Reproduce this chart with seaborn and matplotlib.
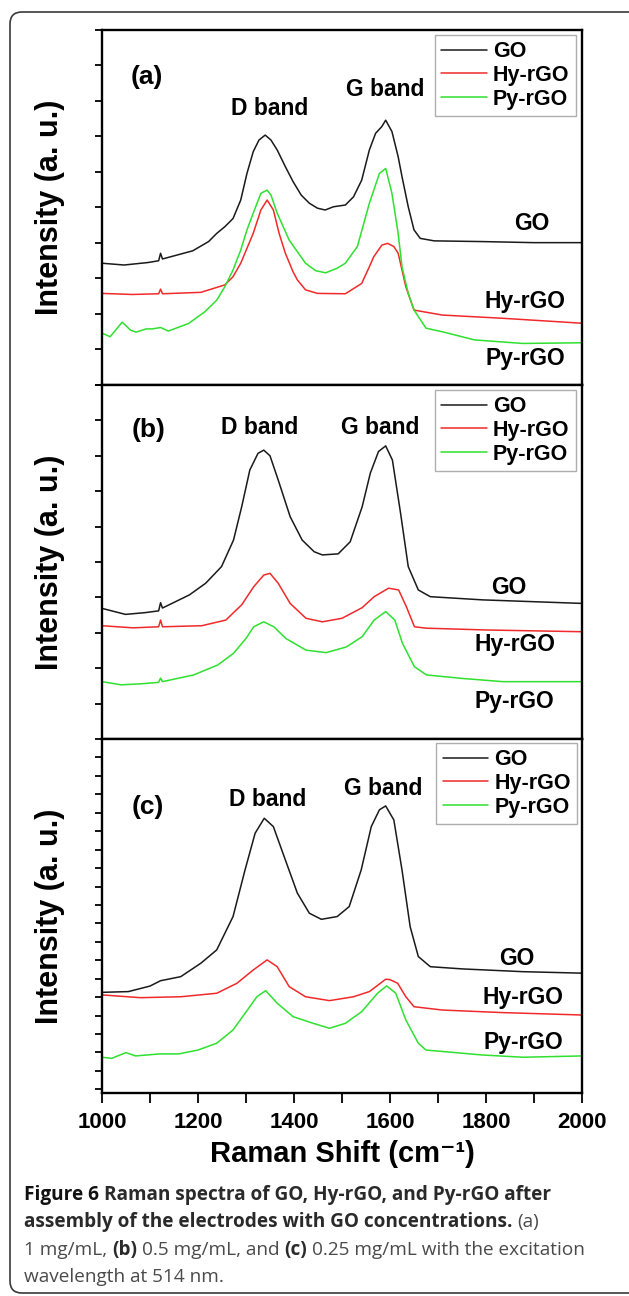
import matplotlib
matplotlib.use('Agg')
import matplotlib.pyplot as plt
import seaborn as sns
from matplotlib.patches import FancyBboxPatch

# ---------------- data (Raman shift in cm-1, intensity in a.u. with stacking offsets) ----------------
series_names = ["GO", "Hy-rGO", "Py-rGO"]
x_ticks = [1000, 1200, 1400, 1600, 1800, 2000]

# panel (a) 1 mg/mL
a_go_x = [1000,1046,1096,1118,1122,1126,1189,1222,1239,1256,1273,1289,1302,1315,1327,1340,1352,1365,1382,1398,1415,1432,1449,1465,1482,1507,1524,1541,1557,1570,1583,1591,1604,1617,1625,1638,1650,1663,1692,1793,1900,2000]
a_go_y = [3.43,3.38,3.45,3.50,3.71,3.55,3.78,4.04,4.27,4.46,4.69,5.21,5.96,6.57,6.90,7.04,6.90,6.62,6.15,5.73,5.35,5.12,4.98,4.93,5.02,5.07,5.30,5.77,6.62,7.09,7.28,7.46,7.14,6.43,5.87,5.02,4.37,4.13,4.06,4.04,4.01,4.01]
a_hy_x = [1000,1063,1118,1122,1126,1206,1256,1273,1289,1302,1315,1331,1344,1357,1369,1382,1398,1407,1424,1449,1507,1541,1557,1566,1583,1595,1608,1617,1633,1650,1709,1834,2000]
a_hy_y = [2.58,2.55,2.57,2.70,2.57,2.61,2.82,3.05,3.43,3.85,4.27,4.93,5.21,4.93,4.27,3.71,3.19,2.96,2.68,2.58,2.57,2.86,3.33,3.61,3.94,3.99,3.90,3.71,2.77,2.11,1.97,1.88,1.74]
a_py_x = [1000,1017,1042,1060,1071,1092,1105,1122,1138,1180,1214,1239,1256,1273,1289,1302,1315,1331,1344,1352,1365,1390,1424,1445,1466,1490,1507,1532,1557,1578,1591,1604,1617,1625,1638,1650,1675,1709,1776,1877,2000]
a_py_y = [1.46,1.36,1.77,1.54,1.49,1.58,1.58,1.62,1.52,1.73,2.06,2.39,2.77,3.24,3.80,4.37,4.84,5.40,5.49,5.35,4.84,4.08,3.43,3.22,3.16,3.29,3.43,3.90,5.12,5.96,6.10,5.40,4.27,3.33,2.58,2.11,1.60,1.50,1.27,1.17,1.19]

# panel (b) 0.5 mg/mL
b_go_x = [1000,1049,1090,1118,1122,1126,1182,1216,1249,1274,1291,1308,1325,1337,1350,1367,1392,1417,1442,1459,1492,1517,1542,1559,1576,1591,1605,1622,1638,1659,1684,1793,2000]
b_go_y = [3.69,3.52,3.57,3.62,3.85,3.70,4.07,4.40,4.87,5.62,6.56,7.60,8.07,8.16,8.00,7.32,6.28,5.62,5.29,5.20,5.23,5.57,6.56,7.51,8.12,8.28,7.88,6.38,4.87,4.21,4.02,3.93,3.83]
b_hy_x = [1000,1065,1118,1122,1126,1208,1258,1291,1316,1337,1350,1367,1392,1425,1459,1500,1542,1567,1597,1618,1634,1651,1676,1800,2000]
b_hy_y = [3.20,3.14,3.17,3.36,3.17,3.20,3.36,3.79,4.30,4.63,4.68,4.40,3.83,3.41,3.31,3.41,3.71,4.02,4.26,4.21,3.74,3.17,3.13,3.08,3.03]
b_py_x = [1000,1040,1082,1118,1122,1126,1191,1241,1274,1300,1316,1337,1358,1383,1425,1467,1509,1542,1567,1591,1610,1626,1651,1676,1751,1835,2000]
b_py_y = [1.62,1.53,1.56,1.60,1.72,1.62,1.81,2.09,2.42,2.84,3.17,3.31,3.17,2.84,2.51,2.44,2.60,2.89,3.36,3.60,3.36,2.70,2.04,1.81,1.71,1.62,1.62]

# panel (c) 0.25 mg/mL
c_go_x = [1000,1055,1100,1122,1164,1206,1239,1273,1298,1319,1338,1357,1382,1407,1432,1457,1490,1515,1540,1561,1578,1591,1608,1625,1642,1659,1684,1751,1877,2000]
c_go_y = [5.26,5.30,5.60,5.89,6.11,6.84,7.56,9.37,11.90,13.89,14.70,14.25,12.44,10.64,9.55,9.22,9.37,9.91,11.90,14.25,15.16,15.37,14.61,11.90,8.82,7.20,6.65,6.53,6.38,6.30]
c_hy_x = [1000,1080,1164,1239,1281,1315,1344,1365,1390,1424,1474,1524,1557,1591,1600,1616,1633,1650,1709,1835,2000]
c_hy_y = [5.12,4.97,5.02,5.21,5.75,6.47,7.02,6.65,5.57,5.02,4.81,5.02,5.30,5.97,5.95,5.75,5.02,4.48,4.30,4.16,4.03]
c_py_x = [1000,1020,1050,1070,1120,1160,1200,1239,1273,1298,1323,1341,1365,1398,1440,1474,1507,1541,1574,1593,1612,1633,1659,1675,1793,1877,2000]
c_py_y = [1.74,1.68,1.99,1.81,1.92,1.92,2.13,2.50,3.22,4.12,5.03,5.35,4.67,3.94,3.58,3.31,3.58,4.21,5.21,5.61,5.21,3.76,2.50,2.13,1.86,1.74,1.81]

panel_letters = ["(a)", "(b)", "(c)"]
peak_labels = ["D band", "G band"]

# ---------------- style ----------------
sns.set_theme(style="ticks")
plt.rcParams['font.family'] = ['Liberation Sans', 'DejaVu Sans']
plt.rcParams['font.weight'] = 'bold'

W, H = 629, 1296
fig = plt.figure(figsize=(W / 100, H / 100), dpi=100)
fig.patch.set_facecolor('white')

colors = ['#1a1a1a', '#f02a2a', '#2fe02f']
L, R = 102, 582
panel_px = [(30, 385), (385, 739), (739, 1093)]

data = [
    [(a_go_x, a_go_y), (a_hy_x, a_hy_y), (a_py_x, a_py_y)],
    [(b_go_x, b_go_y), (b_hy_x, b_hy_y), (b_py_x, b_py_y)],
    [(c_go_x, c_go_y), (c_hy_x, c_hy_y), (c_py_x, c_py_y)],
]
ylims = [(0, 10), (0, 10), (-0.2, 19.0)]
yticks = [list(range(0, 11)), list(range(0, 11)), list(range(0, 19))]

# layout of annotations (axes fractions)
letter_pos = [(0.094, 0.868), (0.098, 0.873), (0.095, 0.808)]
dband_pos = [(0.350, 0.780), (0.329, 0.879), (0.346, 0.828)]
gband_pos = [(0.590, 0.831), (0.579, 0.879), (0.585, 0.859)]
side_pos = [
    [(0.896, 0.456), (0.881, 0.234), (0.881, 0.076)],
    [(0.848, 0.427), (0.860, 0.266), (0.860, 0.105)],
    [(0.865, 0.381), (0.877, 0.271), (0.877, 0.144)],
]
legend_anchor = [(0.9875, 0.986), (0.9875, 0.986), (0.990, 0.989)]

for i, (top, bot) in enumerate(panel_px):
    ax = fig.add_axes([L / W, 1 - bot / H, (R - L) / W, (bot - top) / H])
    for (xs, ys), name, c in zip(data[i], series_names, colors):
        sns.lineplot(x=xs, y=ys, ax=ax, color=c, linewidth=1.1, label=name,
                     estimator=None, sort=False)
    ax.set_xlim(1000, 2000)
    ax.set_ylim(*ylims[i])
    ax.set_yticks(yticks[i])
    ax.set_yticklabels([])
    ax.tick_params(axis='y', direction='out', length=5, width=1.3, left=True, color='black')
    for sp in ax.spines.values():
        sp.set_linewidth(1.7)
        sp.set_color('black')
        sp.set_visible(True)
    if i < 2:
        ax.set_xticks([])
    else:
        ax.set_xticks(x_ticks)
        ax.set_xticks(list(range(1100, 2000, 200)), minor=True)
        ax.tick_params(axis='x', which='both', direction='out', length=7, width=1.3,
                       labelsize=16, pad=7, color='black', labelcolor='black')
        for lab in ax.get_xticklabels():
            lab.set_fontweight('bold')
        ax.set_xlabel('Raman Shift (cm\u207b\u00b9)', fontsize=21, fontweight='bold', labelpad=5, color='black')
    ax.set_ylabel('Intensity (a. u.)', fontsize=22, fontweight='bold', color='black')
    ax.yaxis.set_label_coords(-0.078, 0.5)

    leg = ax.legend(loc='upper right', bbox_to_anchor=legend_anchor[i], borderaxespad=0,
                    frameon=True, fancybox=False, edgecolor='#9a9a9a',
                    prop={'weight': 'bold', 'size': 15.5}, handlelength=2.1,
                    handletextpad=0.3, labelspacing=0.12, borderpad=0.3)
    leg.get_frame().set_linewidth(1.0)
    for t in leg.get_texts():
        t.set_color('black')

    ax.text(*letter_pos[i], panel_letters[i], transform=ax.transAxes, ha='center', va='center',
            fontsize=19, fontweight='bold', color='black')
    ax.text(*dband_pos[i], peak_labels[0], transform=ax.transAxes, ha='center', va='center',
            fontsize=16.5, fontweight='bold', color='black')
    ax.text(*gband_pos[i], peak_labels[1], transform=ax.transAxes, ha='center', va='center',
            fontsize=16.5, fontweight='bold', color='black')
    for (px, py), name in zip(side_pos[i], series_names):
        ax.text(px, py, name, transform=ax.transAxes, ha='center', va='center',
                fontsize=16.5, fontweight='bold', color='black')

# ---------------- border ----------------
border = FancyBboxPatch((0.10, 0.03), 7.0, 12.81, boxstyle='round,pad=0,rounding_size=0.12',
                        transform=fig.dpi_scale_trans, fill=False, edgecolor='#3a3a3a', linewidth=1.2)
fig.add_artist(border)

# ---------------- caption ----------------
cap_fs = 13.7
renderer = fig.canvas.get_renderer()
space_cache = {}


def space_width(weight):
    if weight not in space_cache:
        t1 = fig.text(0, 0, 'x x', fontsize=cap_fs, fontweight=weight, family='Open Sans')
        t2 = fig.text(0, 0, 'xx', fontsize=cap_fs, fontweight=weight, family='Open Sans')
        w = t1.get_window_extent(renderer).width - t2.get_window_extent(renderer).width
        t1.remove(); t2.remove()
        space_cache[weight] = w
    return space_cache[weight]


def caption_line(y_px, segments):
    x = 24.0
    for s, weight, color in segments:
        lead = len(s) - len(s.lstrip(' '))
        trail = len(s) - len(s.rstrip(' '))
        x += lead * space_width(weight)
        core = s.strip(' ')
        t = fig.text(x / W, 1 - y_px / H, core, fontsize=cap_fs, fontweight=weight,
                     color=color, family='Open Sans', ha='left', va='center')
        x += t.get_window_extent(renderer).width
        x += trail * space_width(weight)


dark = '#111111'
body = '#2a2a2a'
grey = '#4a4a4a'
caption_line(1195, [("Figure 6", 'bold', dark), (" Raman spectra of GO, Hy-rGO, and Py-rGO after", 'bold', body)])
caption_line(1222, [("assembly of the electrodes with GO concentrations.", 'bold', body), (" (a)", 'normal', grey)])
caption_line(1250, [("1 mg/mL, ", 'normal', grey), ("(b)", 'bold', body), (" 0.5 mg/mL, and ", 'normal', grey),
                    ("(c)", 'bold', body), (" 0.25 mg/mL with the excitation", 'normal', grey)])
caption_line(1277, [("wavelength at 514 nm.", 'normal', grey)])

fig.savefig('out.png', dpi=100, facecolor='white')
